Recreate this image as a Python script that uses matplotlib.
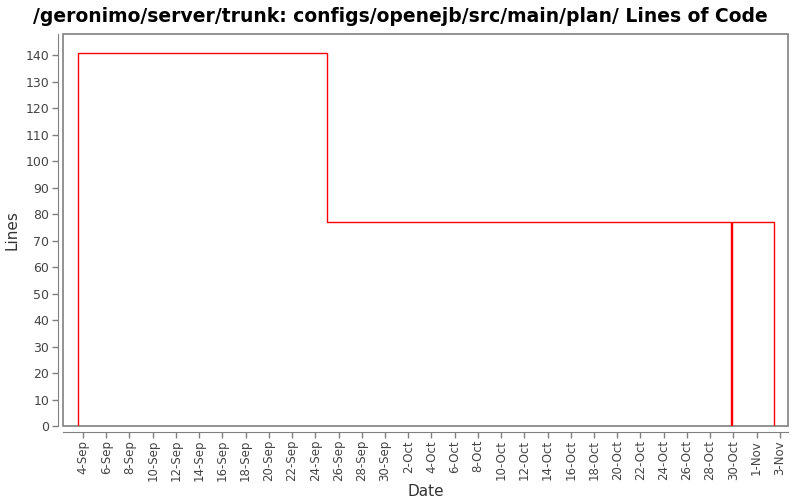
import pandas as pd
import matplotlib
matplotlib.use("Agg")
import matplotlib.pyplot as plt
import matplotlib.dates as mdates
from matplotlib.patches import Rectangle

# Lines of code over time (step chart)
commit_dates = ["2006-09-03 13:00", "2006-09-03 13:00", "2006-09-25 00:00",
                "2006-10-29 19:00", "2006-10-29 22:00", "2006-11-02 12:00"]
line_counts = [0, 141, 77, 0, 77, 0]

title = "/geronimo/server/trunk: configs/openejb/src/main/plan/ Lines of Code"

dates = pd.to_datetime(commit_dates)
tick_dates = pd.date_range("2006-09-04", "2006-11-03", freq="2D")

fig = plt.figure(figsize=(8, 5), dpi=100)
ax = fig.add_axes([0.079, 0.148, 0.906, 0.784])

ax.plot(dates, line_counts, drawstyle="steps-post", color="red", linewidth=1)

ax.set_xlim(pd.Timestamp("2006-09-02 07:00"), pd.Timestamp("2006-11-03 17:00"))
ax.set_ylim(0, 148)
ax.set_yticks(range(0, 141, 10))
ax.set_xticks(tick_dates)
ax.xaxis.set_major_formatter(mdates.DateFormatter("%-d-%b"))

ax.tick_params(colors="#444444", labelsize=9, length=4, width=1)
ax.tick_params(axis="both", color="gray")
ax.tick_params(axis="x", labelrotation=90, labelsize=8.5, pad=2)
ax.tick_params(axis="y", pad=2)

# gray frame around the plot area
for s in ["top", "right"]:
    ax.spines[s].set_visible(False)
for s in ["left", "bottom"]:
    ax.spines[s].set_position(("outward", 4))
    ax.spines[s].set_color("gray")
ax.add_patch(Rectangle((0, 0), 1, 1, transform=ax.transAxes, fill=False,
                       edgecolor="gray", linewidth=1.2, clip_on=False))

ax.set_xlabel("Date", fontsize=11, color="#333333", labelpad=2)
ax.set_ylabel("Lines", fontsize=11, color="#333333", labelpad=4)
fig.suptitle(title, fontsize=13.5, fontweight="bold", y=0.985)

fig.savefig("out.png", dpi=100)
